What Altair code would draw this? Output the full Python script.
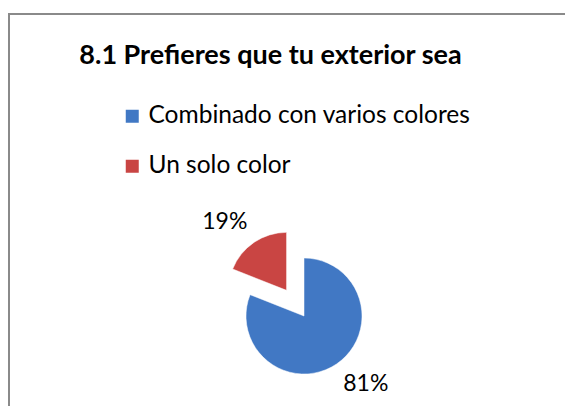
import altair as alt
import pandas as pd

categories = ["Combinado con varios colores", "Un solo color"]
values = [81, 19]
labels = ["81%", "19%"]
exploded = [0, 1]
colors = ["#4178c4", "#c94543"]

W, H = 557, 398
CX, CY = 296, 308
R = 58
EXPLODE = 31
LABEL_R = 92
LABEL_SHIFT = -8  # degrees
FONT = "Lato"

df = pd.DataFrame({
    "category": categories,
    "value": values,
    "label": labels,
    "exploded": exploded,
    "order": list(range(len(categories))),
})

base = (
    alt.Chart(df)
    .transform_joinaggregate(total="sum(value)")
    .transform_window(cum="sum(value)", sort=[alt.SortField("order")], frame=[None, 0])
    .transform_calculate(
        start="2*PI*(datum.cum - datum.value)/datum.total",
        end="2*PI*datum.cum/datum.total",
        mid="2*PI*(datum.cum - datum.value/2)/datum.total",
    )
    .transform_calculate(
        cx=f"{CX} + datum.exploded*{EXPLODE}*sin(datum.mid)",
        cy=f"{CY} - datum.exploded*{EXPLODE}*cos(datum.mid)",
    )
    .transform_calculate(
        lx=f"datum.cx + {LABEL_R}*sin(datum.mid + {LABEL_SHIFT}*PI/180)",
        ly=f"datum.cy - {LABEL_R}*cos(datum.mid + {LABEL_SHIFT}*PI/180)",
    )
)

arcs = base.mark_arc(radius=R, stroke="#ffffff", strokeWidth=0.5).encode(
    x=alt.X("cx:Q", scale=None, axis=None),
    y=alt.Y("cy:Q", scale=None, axis=None),
    theta=alt.Theta("start:Q", scale=None),
    theta2=alt.Theta2("end:Q"),
    color=alt.Color(
        "category:N",
        scale=alt.Scale(domain=categories, range=colors),
        legend=alt.Legend(
            orient="none", legendX=112, legendY=96, title=None,
            symbolType="square", symbolSize=169, symbolStrokeWidth=0,
            labelFont=FONT, labelFontSize=24.5, labelColor="#000000",
            rowPadding=25, labelOffset=4, labelLimit=500,
        ),
    ),
)

texts = base.mark_text(font=FONT, fontSize=23, color="#000000").encode(
    x=alt.X("lx:Q", scale=None, axis=None),
    y=alt.Y("ly:Q", scale=None, axis=None),
    text="label:N",
)

one = pd.DataFrame({"k": [0]})
top_rule = alt.Chart(one).mark_rule(color="#8a8a8a", strokeWidth=2).encode(
    x=alt.value(0), x2=alt.value(W), y=alt.value(6)
)
left_rule = alt.Chart(one).mark_rule(color="#8a8a8a", strokeWidth=2).encode(
    x=alt.value(1), y=alt.value(5), y2=alt.value(H)
)

chart = (
    alt.layer(top_rule, left_rule, arcs, texts)
    .properties(
        width=W, height=H, padding=0, autosize=alt.AutoSizeParams(type="none"),
        background="#ffffff",
        title=alt.TitleParams(
            "8.1 Prefieres que tu exterior sea", font=FONT, fontSize=27,
            fontWeight="bold", color="#000000", anchor="middle", frame="group",
            baseline="middle", offset=0, dx=-16, dy=75,
        ),
    )
    .configure_view(strokeWidth=0)
)

chart.save("out.html", embed_options={"renderer": "svg", "actions": False})
